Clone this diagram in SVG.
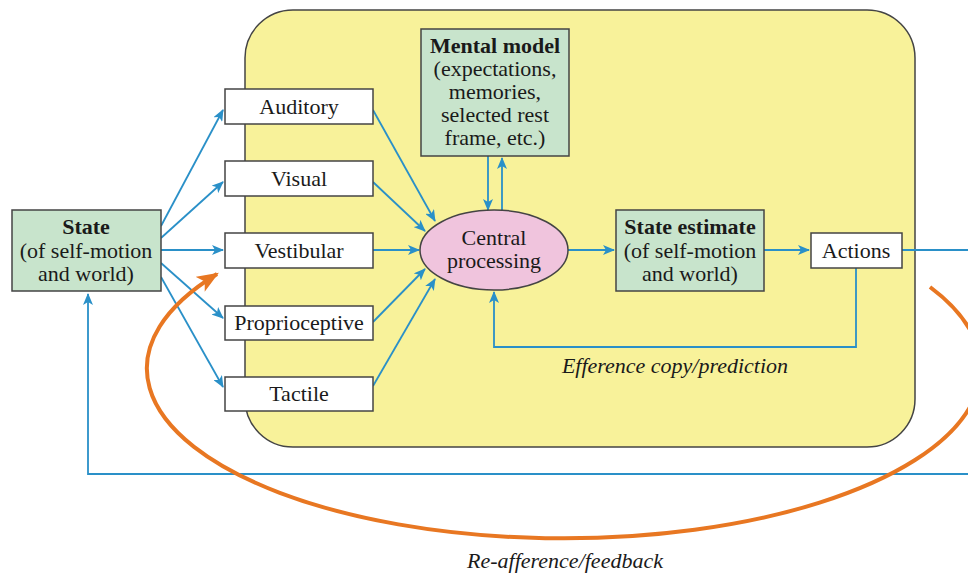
<svg xmlns="http://www.w3.org/2000/svg" width="968" height="575" viewBox="0 0 968 575">
<style>
  .t{font-family:"Liberation Serif","DejaVu Serif",serif;font-size:22px;fill:#1a1a1a;text-anchor:middle}
  .b{font-weight:bold}
  .i{font-style:italic}
  .box{fill:#ffffff;stroke:#444;stroke-width:1.5}
  .green{fill:#c8e4cc;stroke:#444;stroke-width:1.5}
  .c{fill:none;stroke:#2a90c8;stroke-width:1.8}
</style>
<defs>
  <marker id="ah" viewBox="0 0 12 10" refX="11" refY="5" markerWidth="12" markerHeight="10" markerUnits="userSpaceOnUse" orient="auto">
    <path d="M0,0 L12,5 L0,10 L3,5 Z" fill="#2a90c8"/>
  </marker>
  <marker id="oh" viewBox="0 0 20 16" refX="18" refY="8" markerWidth="22" markerHeight="18" markerUnits="userSpaceOnUse" orient="auto">
    <path d="M0,0 L20,8 L0,16 L5,8 Z" fill="#e87722"/>
  </marker>
</defs>

<g id="system">
  <rect x="245" y="10" width="670" height="437" rx="48" ry="48" fill="#f8f29a" stroke="#444" stroke-width="1.5"/>
</g>

<g id="connectors">
  <!-- state to senses -->
  <path class="c" d="M161,226 L223,110" marker-end="url(#ah)"/>
  <path class="c" d="M161,238 L223,182" marker-end="url(#ah)"/>
  <path class="c" d="M161,250 L223,250" marker-end="url(#ah)"/>
  <path class="c" d="M161,263 L223,318" marker-end="url(#ah)"/>
  <path class="c" d="M161,277 L223,387" marker-end="url(#ah)"/>
  <!-- senses to central -->
  <path class="c" d="M373,110 L435,221" marker-end="url(#ah)"/>
  <path class="c" d="M373,182 L425,231" marker-end="url(#ah)"/>
  <path class="c" d="M373,250 L419,250" marker-end="url(#ah)"/>
  <path class="c" d="M373,322 L425,269" marker-end="url(#ah)"/>
  <path class="c" d="M373,386 L435,279" marker-end="url(#ah)"/>
  <!-- mental model <-> central -->
  <path class="c" d="M488,156 L488,210" marker-end="url(#ah)"/>
  <path class="c" d="M502,211 L502,158" marker-end="url(#ah)"/>
  <!-- central to state estimate to actions -->
  <path class="c" d="M568,250 L614,250" marker-end="url(#ah)"/>
  <path class="c" d="M764,250 L809,250" marker-end="url(#ah)"/>
  <!-- actions out -->
  <path class="c" d="M902,250 L968,250"/>
  <!-- efference copy -->
  <path class="c" d="M856,268 L856,347 L494,347 L494,292" marker-end="url(#ah)"/>
  <!-- external feedback -->
  <path class="c" d="M968,474 L88,474 L88,294" marker-end="url(#ah)"/>
  <!-- re-afference -->
  <path d="M930,287 A417,170 0 1 1 217,274" fill="none" stroke="#e87722" stroke-width="4" marker-end="url(#oh)"/>
</g>

<g id="state">
  <rect class="green" x="12" y="210" width="149" height="81"/>
  <text class="t b" x="86" y="234">State</text>
  <text class="t" x="86" y="258">(of self-motion</text>
  <text class="t" x="86" y="281">and world)</text>
</g>
<g id="auditory">
  <rect class="box" x="225" y="89" width="148" height="35"/>
  <text class="t" x="299" y="114">Auditory</text>
</g>
<g id="visual">
  <rect class="box" x="225" y="161" width="148" height="35"/>
  <text class="t" x="299" y="186">Visual</text>
</g>
<g id="vestibular">
  <rect class="box" x="225" y="233" width="148" height="35"/>
  <text class="t" x="299" y="258">Vestibular</text>
</g>
<g id="proprioceptive">
  <rect class="box" x="225" y="306" width="148" height="34"/>
  <text class="t" x="299" y="330">Proprioceptive</text>
</g>
<g id="tactile">
  <rect class="box" x="225" y="377" width="148" height="34"/>
  <text class="t" x="299" y="401">Tactile</text>
</g>
<g id="mental-model">
  <rect class="green" x="421" y="29" width="148" height="127"/>
  <text class="t b" x="495" y="53">Mental model</text>
  <text class="t" x="495" y="76">(expectations,</text>
  <text class="t" x="495" y="99">memories,</text>
  <text class="t" x="495" y="122">selected rest</text>
  <text class="t" x="495" y="145">frame, etc.)</text>
</g>
<g id="central">
  <ellipse cx="494" cy="250" rx="74" ry="40" fill="#f0c4dd" stroke="#444" stroke-width="1.5"/>
  <text class="t" x="494" y="245">Central</text>
  <text class="t" x="494" y="268">processing</text>
</g>
<g id="state-estimate">
  <rect class="green" x="616" y="210" width="148" height="81"/>
  <text class="t b" x="690" y="234">State estimate</text>
  <text class="t" x="690" y="258">(of self-motion</text>
  <text class="t" x="690" y="281">and world)</text>
</g>
<g id="actions">
  <rect class="box" x="811" y="233" width="91" height="35"/>
  <text class="t" x="856" y="258">Actions</text>
</g>
<g id="labels">
  <text class="t i" x="675" y="373">Efference copy/prediction</text>
  <text class="t i" x="565" y="568">Re-afference/feedback</text>
</g>
</svg>
